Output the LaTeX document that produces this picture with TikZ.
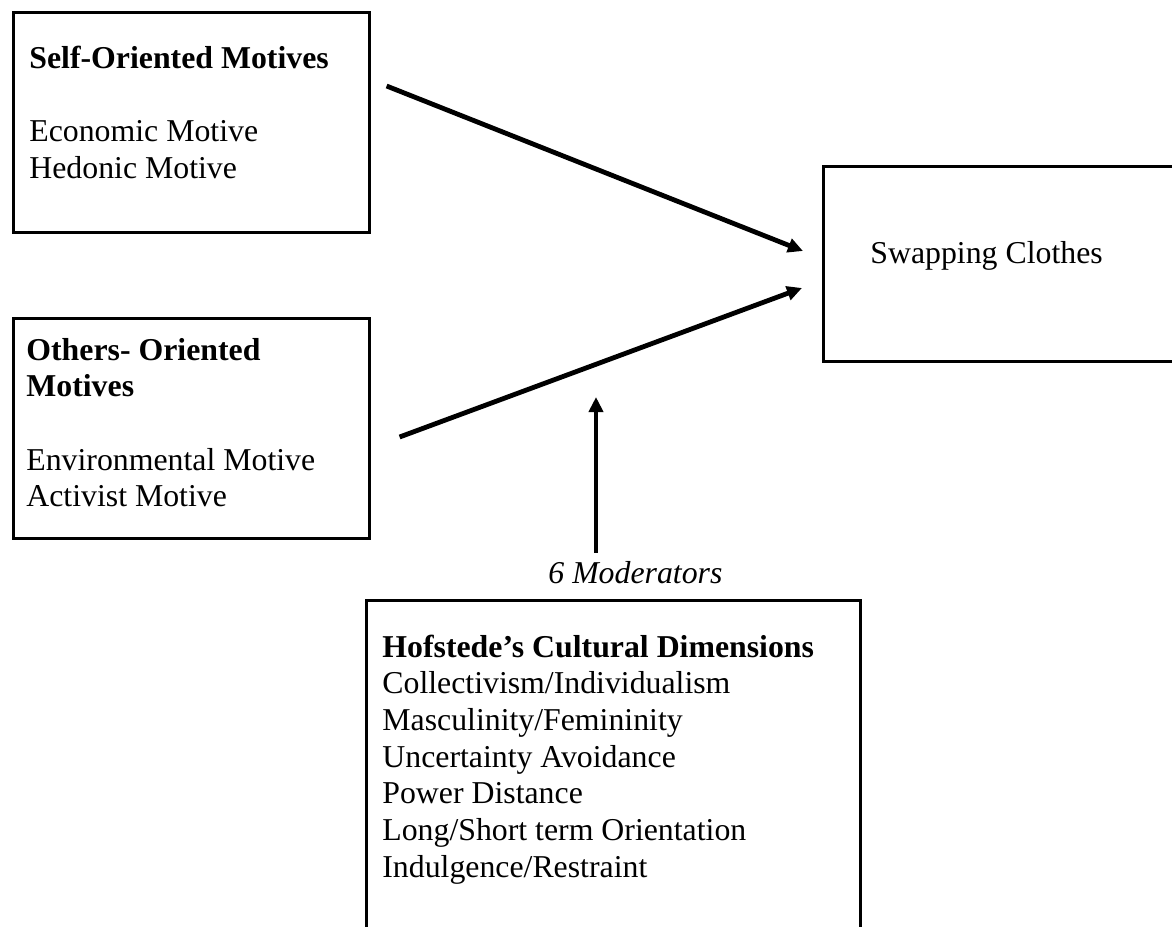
\documentclass[tikz,border=0pt]{standalone}
\usepackage{fontspec}
\setmainfont{Liberation Serif}
\usetikzlibrary{arrows.meta,positioning}

\begin{document}
\begin{tikzpicture}[
        x=0.5pt, y=-0.5pt,
        box/.style={draw, line width=1.3pt, anchor=north west, inner sep=0pt},
        txt/.style={anchor=base west, inner sep=0pt, font=\fontsize{15.9}{18.35}\selectfont},
        arrow/.style={-{Triangle[length=7.5pt, width=7pt]}, line width=2.4pt}
    ]
        \clip (0,0) rectangle (1172,926);
        \fill[white] (0,0) rectangle (1172,926);

        \node[box, minimum width=178pt, minimum height=110pt] (self) at (12,11) {};
        \node[box, minimum width=178pt, minimum height=110pt] (others) at (12,317) {};
        \node[box, minimum width=184pt, minimum height=97.5pt] (swap) at (822,165) {};
        \node[box, minimum width=247pt, minimum height=171pt] (hofstede) at (365,599) {};

        \node[txt] (selftext) at (29,68) {\parbox[t]{170pt}{\raggedright
            \textbf{Self-Oriented Motives}\\[18.35pt]
            Economic Motive\\
            Hedonic Motive}};
        \node[txt] (otherstext) at (26,360) {\parbox[t]{170pt}{\raggedright
            \textbf{Others- Oriented}\\
            \textbf{Motives}\\[18.35pt]
            Environmental Motive\\
            Activist Motive}};
        \node[txt] (swaptext) at (870,263) {Swapping Clothes};
        \node[txt] (modtext) at (548,583) {\textit{6 Moderators}};
        \node[txt] (hofstedetext) at (382,657) {\parbox[t]{240pt}{\raggedright
            \textbf{Hofstede’s Cultural Dimensions}\\
            Collectivism/Individualism\\
            Masculinity/Femininity\\
            Uncertainty Avoidance\\
            Power Distance\\
            Long/Short term Orientation\\
            Indulgence/Restraint}};

        \coordinate (selfout) at ([shift={(16,75)}]self.north east);
        \coordinate (othersout) at ([shift={(29,120)}]others.north east);
        \coordinate (swapin1) at ([shift={(-19,86)}]swap.north west);
        \coordinate (swapin2) at ([shift={(-20,123)}]swap.north west);
        \coordinate (modtip) at (596,397);

        \draw[arrow] (selfout) -- (swapin1);
        \draw[arrow] (othersout) -- (swapin2);
        \draw[arrow, shorten <=4pt] (modtext.north -| modtip) -- (modtip);
    \end{tikzpicture}
\end{document}
